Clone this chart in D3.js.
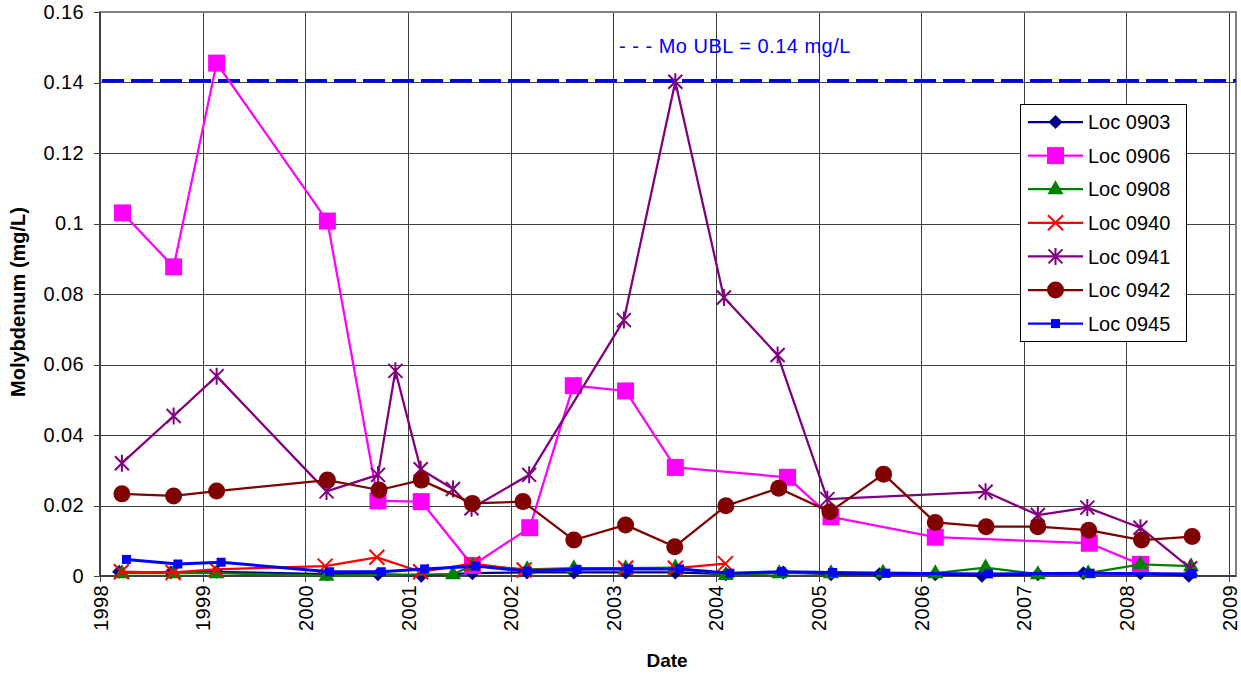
<!DOCTYPE html>
<html lang="en">
<head>
  <meta charset="UTF-8">
  <title>Molybdenum</title>
  <style>
    body { margin: 0; background: #ffffff; }
    svg { display: block; font-family: Arial, "Liberation Sans", sans-serif; }
    .grid line { stroke: #404040; stroke-width: 1; shape-rendering: crispEdges; }
    .axis text { font-size: 20px; fill: #000; letter-spacing: 0.4px; }
    .axis line { stroke: #404040; shape-rendering: crispEdges; }
  </style>
</head>
<body>
  <svg id="chart"></svg>

  <script src="https://d3js.org/d3.v7.min.js"></script>
  <script>
    const width = 1241;
    const height = 677;

    // each series: [sample date, Mo mg/L]
    const loc0903 = [
      ["1998-03-10", 0.0012], ["1998-09-10", 0.001], ["1999-02-20", 0.0012], ["2000-03-17", 0.0005],
      ["2000-09-16", 0.0005], ["2001-02-17", 0.0001], ["2001-08-18", 0.0008], ["2002-02-28", 0.001],
      ["2002-08-14", 0.001], ["2003-02-14", 0.001], ["2003-08-10", 0.001], ["2004-02-06", 0.0005],
      ["2004-08-28", 0.001], ["2005-02-14", 0.0005], ["2005-08-05", 0.0005], ["2006-02-20", 0.0005],
      ["2006-08-05", 0.0001], ["2007-02-20", 0.0005], ["2007-08-01", 0.0008], ["2008-02-20", 0.0008],
      ["2008-08-10", 0.0001]
    ];
    const loc0906 = [
      ["1998-03-22", 0.103], ["1998-09-20", 0.0877], ["1999-02-20", 0.1455], ["2000-03-20", 0.1007],
      ["2000-09-16", 0.0213], ["2001-02-17", 0.0211], ["2001-08-18", 0.003], ["2002-03-10", 0.0137],
      ["2002-08-12", 0.054], ["2003-02-14", 0.0525], ["2003-08-10", 0.0308], ["2004-09-12", 0.028],
      ["2005-02-14", 0.0168], ["2006-02-20", 0.011], ["2007-08-22", 0.0093], ["2008-02-20", 0.0033]
    ];
    const loc0908 = [
      ["1998-03-20", 0.0008], ["1998-09-20", 0.0008], ["1999-02-20", 0.0008], ["2000-03-17", 0.0001],
      ["2001-06-10", 0.0005], ["2001-08-18", 0.003], ["2002-03-01", 0.0019], ["2002-08-14", 0.0022],
      ["2003-02-14", 0.0022], ["2003-08-10", 0.0024], ["2004-02-06", 0.0003], ["2004-08-14", 0.0008],
      ["2005-02-14", 0.0008], ["2005-08-18", 0.0009], ["2006-02-20", 0.0008], ["2006-08-18", 0.0024],
      ["2007-02-20", 0.0005], ["2007-08-18", 0.0008], ["2008-02-20", 0.0033], ["2008-08-18", 0.0028]
    ];
    const loc0940 = [
      ["1998-03-18", 0.0012], ["1998-09-18", 0.001], ["1999-02-18", 0.0019], ["2000-03-12", 0.0028],
      ["2000-09-12", 0.0053], ["2001-02-15", 0.0012], ["2001-08-18", 0.0035], ["2002-02-18", 0.0017],
      ["2003-02-14", 0.0022], ["2003-08-10", 0.0022], ["2004-02-04", 0.0035]
    ];
    const loc0941 = [
      ["1998-03-20", 0.032], ["1998-09-20", 0.0454], ["1999-02-20", 0.0567], ["2000-03-17", 0.024],
      ["2000-09-16", 0.0287], ["2000-11-17", 0.0582], ["2001-02-15", 0.0303], ["2001-06-10", 0.0247],
      ["2001-08-15", 0.0192], ["2002-03-08", 0.0287], ["2003-02-08", 0.0726], ["2003-08-10", 0.1402],
      ["2004-01-30", 0.079], ["2004-08-08", 0.0627], ["2005-02-01", 0.0218], ["2006-08-18", 0.0239],
      ["2007-02-20", 0.0173], ["2007-08-15", 0.0194], ["2008-02-20", 0.0137], ["2008-08-15", 0.0022]
    ];
    const loc0942 = [
      ["1998-03-20", 0.0233], ["1998-09-20", 0.0227], ["1999-02-20", 0.0241], ["2000-03-20", 0.0272],
      ["2000-09-20", 0.0244], ["2001-02-17", 0.0272], ["2001-08-18", 0.0206], ["2002-02-14", 0.0211],
      ["2002-08-14", 0.0102], ["2003-02-14", 0.0145], ["2003-08-08", 0.0083], ["2004-02-06", 0.0199],
      ["2004-08-12", 0.0249], ["2005-02-10", 0.0182], ["2005-08-20", 0.0289], ["2006-02-20", 0.0152],
      ["2006-08-20", 0.014], ["2007-02-20", 0.014], ["2007-08-20", 0.013], ["2008-02-24", 0.0102],
      ["2008-08-22", 0.0112]
    ];
    const loc0945 = [
      ["1998-04-05", 0.0047], ["1998-10-05", 0.0034], ["1999-03-08", 0.0039], ["2000-03-28", 0.0012],
      ["2000-09-28", 0.0012], ["2001-03-01", 0.002], ["2001-08-30", 0.0028], ["2002-03-01", 0.0014],
      ["2002-08-25", 0.0019], ["2003-02-25", 0.002], ["2003-08-25", 0.002], ["2004-02-20", 0.0008],
      ["2004-08-22", 0.0012], ["2005-02-20", 0.001], ["2005-08-28", 0.0008], ["2006-08-28", 0.0006],
      ["2007-08-25", 0.0008], ["2008-08-22", 0.0006]
    ];

    const seriesNames = ["Loc 0903", "Loc 0906", "Loc 0908", "Loc 0940", "Loc 0941", "Loc 0942", "Loc 0945"];
    const seriesData = [loc0903, loc0906, loc0908, loc0940, loc0941, loc0942, loc0945];
    const seriesColors = ["#000080", "#ff00ff", "#008000", "#ff0000", "#800080", "#800000", "#0000ff"];
    const seriesMarkers = ["diamond", "square", "triangle", "x", "star", "circle", "smallsquare"];

    const yTicks = [0, 0.02, 0.04, 0.06, 0.08, 0.1, 0.12, 0.14, 0.16];
    const xYears = [1998, 1999, 2000, 2001, 2002, 2003, 2004, 2005, 2006, 2007, 2008, 2009];
    const ublValue = 0.1405;
    const ublLabel = "- - - Mo UBL = 0.14 mg/L";

    const parse = d3.utcParse("%Y-%m-%d");

    const margin = { top: 12, right: 5, bottom: 101, left: 100 };
    const x = d3.scaleUtc()
      .domain([Date.UTC(1998, 0, 1), Date.UTC(2009, 0, 25)])
      .range([margin.left, width - margin.right]);
    const y = d3.scaleLinear()
      .domain([0, 0.16])
      .range([height - margin.bottom, margin.top]);

    const svg = d3.select("#chart").attr("width", width).attr("height", height);

    // gridlines
    const grid = svg.append("g").attr("class", "grid");
    grid.selectAll("line.h")
      .data(yTicks.slice(1, -1))
      .enter().append("line")
      .attr("x1", x.range()[0]).attr("x2", x.range()[1])
      .attr("y1", d => Math.round(y(d)) + 0.5).attr("y2", d => Math.round(y(d)) + 0.5);
    grid.selectAll("line.v")
      .data(xYears.slice(1))
      .enter().append("line")
      .attr("x1", d => Math.round(x(Date.UTC(d, 0, 1))) + 0.5)
      .attr("x2", d => Math.round(x(Date.UTC(d, 0, 1))) + 0.5)
      .attr("y1", y.range()[1]).attr("y2", y.range()[0]);

    // plot frame
    svg.append("rect")
      .attr("x", x.range()[0]).attr("y", y.range()[1])
      .attr("width", x.range()[1] - x.range()[0])
      .attr("height", y.range()[0] - y.range()[1])
      .attr("fill", "none").attr("stroke", "#808080").attr("stroke-width", 2);

    // axes
    const yAxis = svg.append("g")
      .attr("class", "axis")
      .attr("transform", `translate(${margin.left},0)`)
      .call(d3.axisLeft(y).tickValues(yTicks).tickSize(6).tickPadding(10)
        .tickFormat(d => d === 0 ? "0" : String(+d.toFixed(2))));
    yAxis.select(".domain").remove();

    const xAxis = svg.append("g")
      .attr("class", "axis")
      .attr("transform", `translate(0,${y.range()[0]})`)
      .call(d3.axisBottom(x).tickValues(xYears.map(d => new Date(Date.UTC(d, 0, 1))))
        .tickSize(6).tickFormat(d3.utcFormat("%Y")));
    xAxis.select(".domain").remove();
    xAxis.selectAll("text")
      .attr("transform", "rotate(-90)")
      .attr("text-anchor", "end")
      .attr("x", -9)
      .attr("y", 0)
      .attr("dy", "0.35em");

    svg.append("line")
      .attr("x1", x.range()[0]).attr("x2", x.range()[0])
      .attr("y1", y.range()[1]).attr("y2", y.range()[0])
      .attr("stroke", "#404040").attr("stroke-width", 2);
    svg.append("line")
      .attr("x1", x.range()[0]).attr("x2", x.range()[1])
      .attr("y1", y.range()[0]).attr("y2", y.range()[0])
      .attr("stroke", "#404040").attr("stroke-width", 2);

    // axis titles
    svg.append("text")
      .attr("transform", `translate(25,${(y.range()[0] + y.range()[1]) / 2 + 8}) rotate(-90)`)
      .attr("text-anchor", "middle")
      .style("font-size", "20px").style("font-weight", "bold")
      .text("Molybdenum (mg/L)");
    svg.append("text")
      .attr("x", 667).attr("y", 667)
      .attr("text-anchor", "middle")
      .style("font-size", "19px").style("font-weight", "bold")
      .text("Date");

    // UBL line + label
    svg.append("line")
      .attr("x1", x.range()[0] + 2).attr("x2", x.range()[1])
      .attr("y1", y(ublValue)).attr("y2", y(ublValue))
      .attr("stroke", "#0000ff").attr("stroke-width", 3.5)
      .attr("stroke-dasharray", "22,7");
    svg.append("text")
      .attr("x", 619).attr("y", 53)
      .style("font-size", "20px").style("fill", "#0000ff")
      .style("letter-spacing", "0.5px")
      .text(ublLabel);

    function markerPath(type) {
      switch (type) {
        case "diamond": return "M0,-7L7,0L0,7L-7,0Z";
        case "square": return d3.symbol(d3.symbolSquare, 17 * 17)();
        case "smallsquare": return d3.symbol(d3.symbolSquare, 9 * 9)();
        case "triangle": return "M0,-9L8,5L-8,5Z";
        case "circle": return d3.symbol(d3.symbolCircle, Math.PI * 8.5 * 8.5)();
        case "x": return "M-7.5,-7.5L7.5,7.5M-7.5,7.5L7.5,-7.5";
        case "star": return "M-7,-7L7,7M-7,7L7,-7M0,-8.5L0,8.5";
      }
    }
    function styleMarker(sel, type, color) {
      if (type === "x" || type === "star") {
        sel.attr("fill", "none").attr("stroke", color).attr("stroke-width", 2);
      } else {
        sel.attr("fill", color).attr("stroke", "none");
      }
    }

    const line = d3.line()
      .x(d => x(parse(d[0])))
      .y(d => y(d[1]));

    seriesData.forEach((data, i) => {
      const g = svg.append("g");
      g.append("path")
        .datum(data)
        .attr("fill", "none")
        .attr("stroke", seriesColors[i])
        .attr("stroke-width", i === 6 ? 3 : 2.25)
        .attr("stroke-linejoin", "round")
        .attr("d", line);
      g.selectAll("path.mk")
        .data(data)
        .enter().append("path")
        .attr("class", "mk")
        .attr("transform", d => `translate(${x(parse(d[0]))},${y(d[1])})`)
        .attr("d", markerPath(seriesMarkers[i]))
        .call(styleMarker, seriesMarkers[i], seriesColors[i]);
    });

    // legend
    const legend = svg.append("g").attr("transform", "translate(1020,104)");
    legend.append("rect")
      .attr("x", 0.5).attr("y", 0.5)
      .attr("width", 166).attr("height", 237)
      .attr("fill", "#fff").attr("stroke", "#000").attr("stroke-width", 1);
    seriesNames.forEach((name, i) => {
      const row = legend.append("g").attr("transform", `translate(0,${18 + i * 33.6})`);
      row.append("line")
        .attr("x1", 8).attr("x2", 63)
        .attr("stroke", seriesColors[i]).attr("stroke-width", 2.25);
      row.append("path")
        .attr("transform", "translate(35.5,0)")
        .attr("d", markerPath(seriesMarkers[i]))
        .call(styleMarker, seriesMarkers[i], seriesColors[i]);
      row.append("text")
        .attr("x", 68).attr("dy", "0.36em")
        .style("font-size", "20px")
        .text(name);
    });
  </script>
</body>
</html>
